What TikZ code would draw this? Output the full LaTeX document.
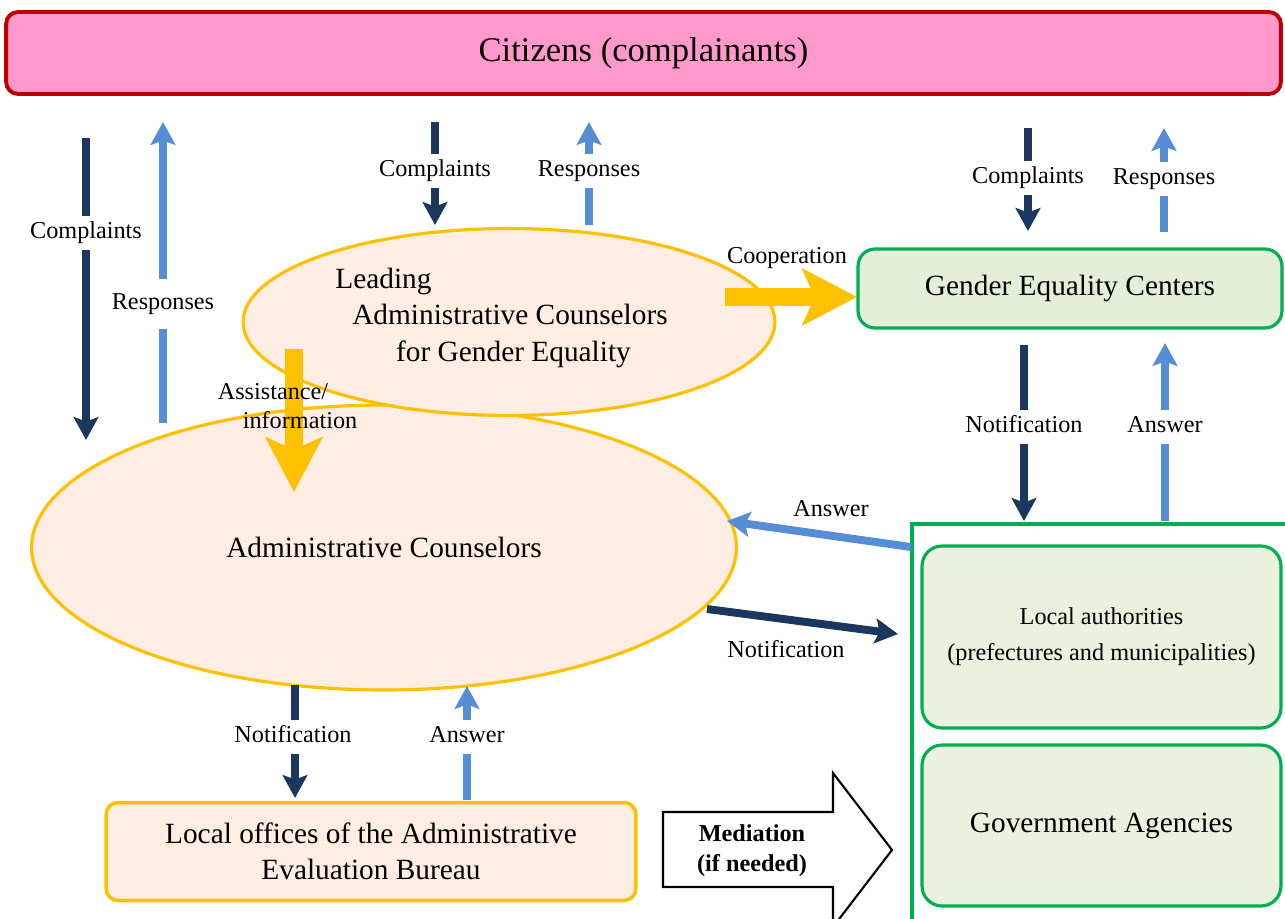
\documentclass[tikz,border=0pt]{standalone}
\usepackage{fontspec}
\setmainfont{Liberation Serif}
\usetikzlibrary{shapes.geometric,arrows.meta}
\definecolor{navy}{HTML}{1B375E}
\definecolor{lblue}{HTML}{558ED5}
\definecolor{amber}{HTML}{FFC000}
\definecolor{peach}{HTML}{FDEDE2}
\definecolor{gfill}{HTML}{E3EFD9}
\definecolor{gfilltwo}{HTML}{EBF1DF}
\definecolor{gline}{HTML}{00B050}
\definecolor{pinkf}{HTML}{FF99CC}
\definecolor{redl}{HTML}{C00000}
\begin{document}
\begin{tikzpicture}[x=0.02cm,y=-0.02cm,
  titletxt/.style={font=\fontsize{19.7}{24}\selectfont},
  bigtxt/.style={font=\fontsize{16.7}{20.6}\selectfont},
  smalltxt/.style={font=\fontsize{13.8}{20.4}\selectfont},
  lbl/.style={smalltxt, inner xsep=2pt, inner ysep=3pt, text height=10pt, text depth=3.5pt},
  freetxt/.style={inner sep=0pt, text height=10pt, text depth=3pt},
  navyarrow/.style={draw=navy, line width=4.5pt},
  bluearrow/.style={draw=lblue, line width=4.5pt},
  tipc/.style={-{Stealth[length=13pt,width=14pt,inset=2.5pt]}},
  yarrow/.style={draw=amber, line width=10.5pt, -{Stealth[length=31pt,width=32pt,inset=7pt]}},
  ellbox/.style={ellipse, draw=amber, line width=1.8pt, fill=peach, inner sep=0pt},
  gbox/.style={rectangle, draw=gline, line width=1.8pt, inner sep=0pt, align=center},
]
\useasboundingbox (0,0) rectangle (1285,919);
\clip (0,0) rectangle (1285,919);

% Citizens
\node[rectangle, rounded corners=0.24cm, draw=redl, line width=2.2pt, fill=pinkf,
      minimum width=25.5cm, minimum height=1.64cm, titletxt] (cit) at (643.5,53) {Citizens (complainants)};

% Ellipses
\node[ellbox, minimum width=14.1cm, minimum height=5.7cm, bigtxt] (adm) at (384,547.5) {Administrative Counselors};
\node[ellbox, minimum width=10.64cm, minimum height=3.74cm] (lead) at (509,322) {};
\node[bigtxt, freetxt] (leadA) at (383.5,282) {Leading};
\node[bigtxt, freetxt] (leadB) at (510,318) {Administrative Counselors};
\node[bigtxt, freetxt] (leadC) at (513.5,355) {for Gender Equality};

% Gender Equality Centers
\node[gbox, rounded corners=0.34cm, fill=gfill, minimum width=8.48cm, minimum height=1.58cm, bigtxt] (gec) at (1070,288.5) {Gender Equality Centers};

% Outer green frame and its boxes
\node[rectangle, draw=gline, line width=2.2pt, fill=white, minimum width=9.76cm, minimum height=9.52cm] (big) at (1156,762) {};
\node[gbox, rounded corners=0.4cm, fill=gfilltwo, minimum width=7.18cm, minimum height=3.64cm, smalltxt] (la) at (1101.5,637) {Local authorities\\(prefectures and municipalities)};
\node[gbox, rounded corners=0.4cm, fill=gfilltwo, minimum width=7.18cm, minimum height=3.22cm, bigtxt] (ga) at (1101.5,825.5) {Government Agencies};

% Local offices
\node[rectangle, rounded corners=0.24cm, draw=amber, line width=2pt, fill=peach, align=center,
      minimum width=10.6cm, minimum height=1.96cm, font=\fontsize{16.7}{20.4}\selectfont] (lo) at (371,851.5) {Local offices of the Administrative\\Evaluation Bureau};

% Mediation block arrow
\draw[black, line width=1.2pt, fill=white, line join=miter] (663,812) -- (833,812) -- (833,773) -- (892,850) -- (833,927) -- (833,887) -- (663,887) -- cycle;
\node[align=center, font=\bfseries\fontsize{13.8}{17}\selectfont] (med) at (752,851) {Mediation\\(if needed)};

% Coordinates for connector ends
\coordinate (a1) at (86,138);  \coordinate (a2) at (86,440);
\coordinate (b1) at (163,423); \coordinate (b2) at (163,122);
\coordinate (c1) at (435,122); \coordinate (c2) at (435,225);
\coordinate (d1) at (589,225); \coordinate (d2) at (589,122);
\coordinate (e1) at (1028,128); \coordinate (e2) at (1028,231);
\coordinate (f1) at (1164,232); \coordinate (f2) at (1164,128);
\coordinate (g1) at (1024,345); \coordinate (g2) at (1024,521);
\coordinate (h1) at (1165,521); \coordinate (h2) at (1165,343);
\coordinate (k1) at (295,685); \coordinate (k2) at (295,798);
\coordinate (l1) at (467,800); \coordinate (l2) at (467,686);
\coordinate (i1) at (911,547); \coordinate (i2) at (727,521);
\coordinate (j1) at (707,609); \coordinate (j2) at (898,634);
\coordinate (m1) at (725,297); \coordinate (m2) at (857,297);
\coordinate (n1) at (294,349); \coordinate (n2) at (294,492);

% Labels on split arrows
\node[lbl] (lA) at (86,233) {Complaints};
\node[lbl, inner ysep=7pt] (lB) at (163,304) {Responses};
\node[lbl] (lC) at (435,171) {Complaints};
\node[lbl] (lD) at (589,171) {Responses};
\node[lbl] (lE) at (1028,178) {Complaints};
\node[lbl] (lF) at (1164,179) {Responses};
\node[lbl] (lG) at (1024,427) {Notification};
\node[lbl] (lH) at (1165,427) {Answer};
\node[lbl] (lK) at (293,737) {Notification};
\node[lbl] (lL) at (467,737) {Answer};

% Split arrows
\draw[navyarrow] (a1) -- (lA); \draw[navyarrow,tipc] (lA) -- (a2);
\draw[bluearrow] (b1) -- (lB); \draw[bluearrow,tipc] (lB) -- (b2);
\draw[navyarrow] (c1) -- (lC); \draw[navyarrow,tipc] (lC) -- (c2);
\draw[bluearrow] (d1) -- (lD); \draw[bluearrow,tipc] (lD) -- (d2);
\draw[navyarrow] (e1) -- (lE); \draw[navyarrow,tipc] (lE) -- (e2);
\draw[bluearrow] (f1) -- (lF); \draw[bluearrow,tipc] (lF) -- (f2);
\draw[navyarrow] (g1) -- (lG); \draw[navyarrow,tipc] (lG) -- (g2);
\draw[bluearrow] (h1) -- (lH); \draw[bluearrow,tipc] (lH) -- (h2);
\draw[navyarrow] (k1) -- (k1 |- lK.north); \draw[navyarrow,tipc] (k1 |- lK.south) -- (k2);
\draw[bluearrow] (l1) -- (lL); \draw[bluearrow,tipc] (lL) -- (l2);

% Diagonal arrows
\draw[bluearrow,tipc] (i1) -- (i2);
\node[smalltxt, freetxt] (lI) at (831,510) {Answer};
\draw[navyarrow,tipc] (j1) -- (j2);
\node[smalltxt, freetxt] (lJ) at (786,651) {Notification};

% Yellow arrows
\draw[yarrow] (m1) -- (m2);
\node[smalltxt, freetxt] (lM) at (787,257) {Cooperation};
\draw[yarrow] (n1) -- (n2);
\node[smalltxt, freetxt] (lN1) at (273,393) {Assistance/};
\node[smalltxt, freetxt] (lN2) at (300,422) {information};
\end{tikzpicture}
\end{document}
